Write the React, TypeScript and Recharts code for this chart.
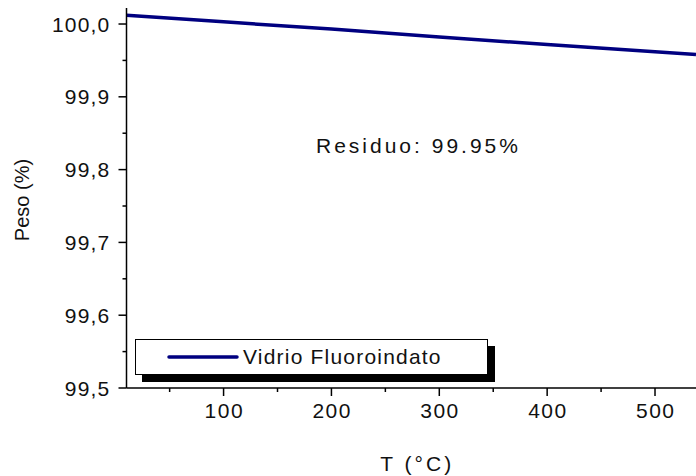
import React from 'react';
import { LineChart, Line, XAxis, YAxis, Label } from 'recharts';

// ─── Data ────────────────────────────────────────────────────────────────────

const TEMPS   = [10, 100, 200, 300, 400, 500, 538];
const WEIGHTS = [100.012, 100.003, 99.993, 99.982, 99.972, 99.962, 99.958];

const X_MAJOR = [100, 200, 300, 400, 500];
const X_MINOR = [50, 150, 250, 350, 450];
const Y_MAJOR = [99.5, 99.6, 99.7, 99.8, 99.9, 100.0];
const Y_MINOR = [99.55, 99.65, 99.75, 99.85, 99.95];

const SERIES_NAME = 'Vidrio Fluoroindato';
const NOTE = 'Residuo: 99.95%';

const data = TEMPS.map((t, i) => ({ t, w: WEIGHTS[i] }));

const FONT = '"Liberation Sans", Arial, sans-serif';
const NAVY = '#000080';

// ─── Custom ticks (major + shorter minor) ────────────────────────────────────

const MAJOR_LEN = 8;
const MINOR_LEN = 4;
const GAP = 8;

function YTick({ x, y, payload }: any) {
  const major = Y_MAJOR.some(v => Math.abs(v - payload.value) < 1e-6);
  const ax = x + MAJOR_LEN + GAP; // axis line x
  return (
    <g>
      <line x1={ax - (major ? MAJOR_LEN : MINOR_LEN)} x2={ax} y1={y} y2={y} stroke="#000" strokeWidth={1.5} />
      {major && (
        <text x={ax - MAJOR_LEN - 8} y={y} dy="0.36em" textAnchor="end" fontSize={21}
          letterSpacing={1.2} fontFamily={FONT} fill="#111">
          {payload.value.toFixed(1).replace('.', ',')}
        </text>
      )}
    </g>
  );
}

function XTick({ x, y, payload }: any) {
  const major = X_MAJOR.includes(payload.value);
  const ay = y - MAJOR_LEN - GAP; // axis line y
  return (
    <g>
      <line x1={x} x2={x} y1={ay} y2={ay + (major ? MAJOR_LEN : MINOR_LEN)} stroke="#000" strokeWidth={1.5} />
      {major && (
        <text x={x} dx={0.75} y={ay + MAJOR_LEN + 7} dy="0.72em" textAnchor="middle" fontSize={21}
          letterSpacing={1.5} fontFamily={FONT} fill="#111">
          {payload.value}
        </text>
      )}
    </g>
  );
}

// ─── Legend box with drop shadow ─────────────────────────────────────────────

function LegendBox() {
  return (
    <div style={{
      position: 'absolute', left: 135, top: 339,
      width: 351, height: 34, background: '#fff', border: '1px solid #000',
      boxShadow: '7px 7px 0 #000', display: 'flex', alignItems: 'center',
      fontFamily: FONT, fontSize: 21, letterSpacing: 1.2, color: '#111',
    }}>
      <svg width={107} height={10} style={{ flex: 'none' }}>
        <line x1={33} x2={101} y1={5} y2={5} stroke={NAVY} strokeWidth={3.5} strokeLinecap="round" />
      </svg>
      <span>{SERIES_NAME}</span>
    </div>
  );
}

// ─── Chart ───────────────────────────────────────────────────────────────────

export default function App() {
  return (
    <div style={{ position: 'absolute', left: 0, top: 0, width: 696, height: 476, background: '#fff', overflow: 'hidden' }}>
      <LineChart width={696} height={476} data={data} margin={{ top: 8, right: 0, left: 0, bottom: 0 }}>
        <XAxis
          dataKey="t" type="number" domain={[10, 538]} allowDataOverflow
          ticks={[...X_MINOR, ...X_MAJOR].sort((a, b) => a - b)}
          tick={<XTick />} tickLine={false} tickSize={MAJOR_LEN} tickMargin={GAP}
          axisLine={{ stroke: '#000', strokeWidth: 1.5 }} height={88} interval={0}
        >
          <Label value="T (°C)" position="insideBottom" offset={5} dx={6}
            style={{ fontFamily: FONT, fontSize: 21, letterSpacing: 3, fill: '#111' }} />
        </XAxis>
        <XAxis
          xAxisId="top" orientation="top" dataKey="t" type="number" domain={[10, 538]}
          tick={false} tickLine={false} height={0} axisLine={{ stroke: '#000', strokeWidth: 1.5 }}
        />
        <YAxis
          type="number" domain={[99.5, 100.022]} allowDataOverflow
          ticks={[...Y_MINOR, ...Y_MAJOR].sort((a, b) => a - b)}
          tick={<YTick />} tickLine={false} tickSize={MAJOR_LEN} tickMargin={GAP}
          axisLine={{ stroke: '#000', strokeWidth: 1.5 }} width={126.5} interval={0}
        >
          <Label value="Peso (%)" angle={-90} position="insideLeft" offset={22} dy={2}
            style={{ textAnchor: 'middle', fontFamily: FONT, fontSize: 20, fill: '#111' }} />
        </YAxis>
        <Line
          type="linear" dataKey="w" name={SERIES_NAME} stroke={NAVY} strokeWidth={3.5}
          dot={false} isAnimationActive={false}
        />
      </LineChart>
      <LegendBox />
      <div style={{
        position: 'absolute', left: 316, top: 134, fontFamily: FONT, fontSize: 21,
        letterSpacing: 3, color: '#111', whiteSpace: 'nowrap',
      }}>
        {NOTE}
      </div>
    </div>
  );
}
